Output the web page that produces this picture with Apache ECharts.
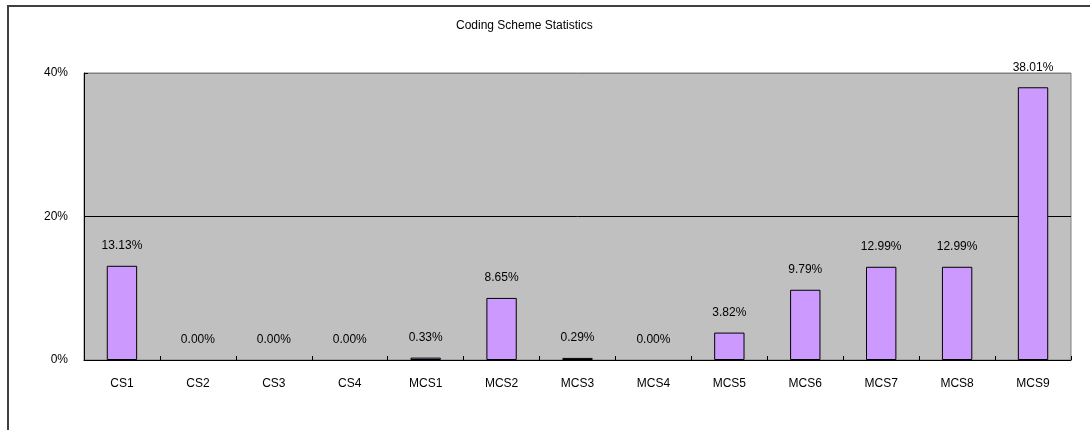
<!DOCTYPE html>
<html><head><meta charset="utf-8">
<script src="https://cdn.jsdelivr.net/npm/echarts@6/dist/echarts.min.js"></script>
<style>html,body{margin:0;padding:0;background:#fff}#c{width:1090px;height:430px}</style>
</head><body><div id="c"></div>
<script>
const categories = ['CS1','CS2','CS3','CS4','MCS1','MCS2','MCS3','MCS4','MCS5','MCS6','MCS7','MCS8','MCS9'];
const values = [13.13, 0, 0, 0, 0.33, 8.65, 0.29, 0, 3.82, 9.79, 12.99, 12.99, 38.01];
const yTicks = [0, 20, 40];

const font = 'Liberation Sans, Arial, sans-serif';
const chart = echarts.init(document.getElementById('c'), null, {renderer:'canvas'});
chart.setOption({
  animation: false,
  backgroundColor: '#fff',
  title: {
    text: 'Coding Scheme Statistics', left: 451, top: 15,
    textStyle: {fontSize: 12, fontWeight: 'normal', color: '#000', fontFamily: font}
  },
  graphic: [
    {type:'line', shape:{x1:8,y1:5,x2:8,y2:430}, style:{stroke:'#404040', lineWidth:2}},
    {type:'line', shape:{x1:7,y1:6,x2:1090,y2:6}, style:{stroke:'#404040', lineWidth:2}}
  ],
  grid: {
    left: 84, top: 73, right: 19, bottom: 70,
    show: true, backgroundColor: '#c0c0c0', borderColor: '#808080', borderWidth: 1
  },
  xAxis: {
    type: 'category', data: categories,
    axisLine: {lineStyle: {color: '#000', width: 1}},
    axisTick: {show: true, inside: true, length: 4, lineStyle: {color: '#000'}},
    axisLabel: {color: '#000', fontSize: 12, fontFamily: font, margin: 18}
  },
  yAxis: {
    type: 'value', min: yTicks[0], max: yTicks[yTicks.length-1], interval: 20,
    axisLine: {show: true, lineStyle: {color: '#000', width: 1}},
    axisTick: {show: true, inside: true, length: 4, lineStyle: {color: '#000'}},
    axisLabel: {color: '#000', fontSize: 12, fontFamily: font, margin: 16, formatter: v => v + '%'},
    splitLine: {show: true, lineStyle: {color: ['#000', '#000', '#808080'], width: 1}}
  },
  series: [{
    type: 'bar', barWidth: '40%',
    data: values.map(v => v === 0 ? {value: v, itemStyle: {borderWidth: 0}} : v),
    itemStyle: {color: '#cc99ff', borderColor: '#000', borderWidth: 1},
    label: {
      show: true, position: 'top', distance: 14, color: '#000', fontSize: 12, fontFamily: font,
      formatter: p => p.value.toFixed(2) + '%'
    }
  }]
});
</script></body></html>
